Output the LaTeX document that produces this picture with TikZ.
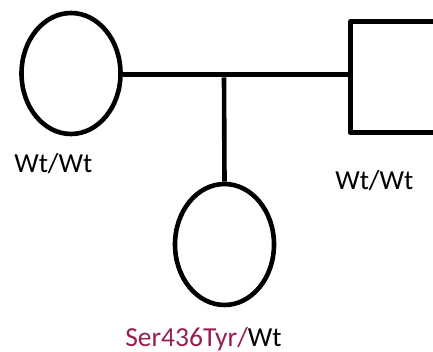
\documentclass[tikz,border=0pt]{standalone}
\usepackage{fontspec}
\setmainfont{Carlito}
\usetikzlibrary{shapes.geometric}
\definecolor{mutred}{RGB}{150,30,85}
\begin{document}
\begin{tikzpicture}[x=1pt,y=-1pt,
  line width=4.6pt,
  person/.style={draw=black, line width=4.6pt, inner sep=0pt},
  female/.style={person, ellipse, minimum width=99pt, minimum height=121pt},
  lbl/.style={anchor=base west, inner sep=0pt, font=\fontsize{27.5}{32}\selectfont}]
\useasboundingbox (0,0) rectangle (433,352);
\node[female] (mother) at (71,73.5) {};
\node[person, rectangle, line join=round, minimum width=111pt, minimum height=111pt, anchor=north west] (father) at (348,19.5) {};
\node[female] (child) at (224.5,244.5) {};
\coordinate (mid) at (224,74.5);
\draw (mother.east) ++(0,1) -- (father.west |- 0,74.5);
\draw (mid) ++(0,3) -- (child.north);
\node[lbl] (lm) at (12,173) {Wt/Wt};
\node[lbl] (lf) at (333,190) {Wt/Wt};
\node[lbl] (lc) at (123,346) {\textcolor{mutred}{Ser436Tyr/}Wt};
\end{tikzpicture}
\end{document}
